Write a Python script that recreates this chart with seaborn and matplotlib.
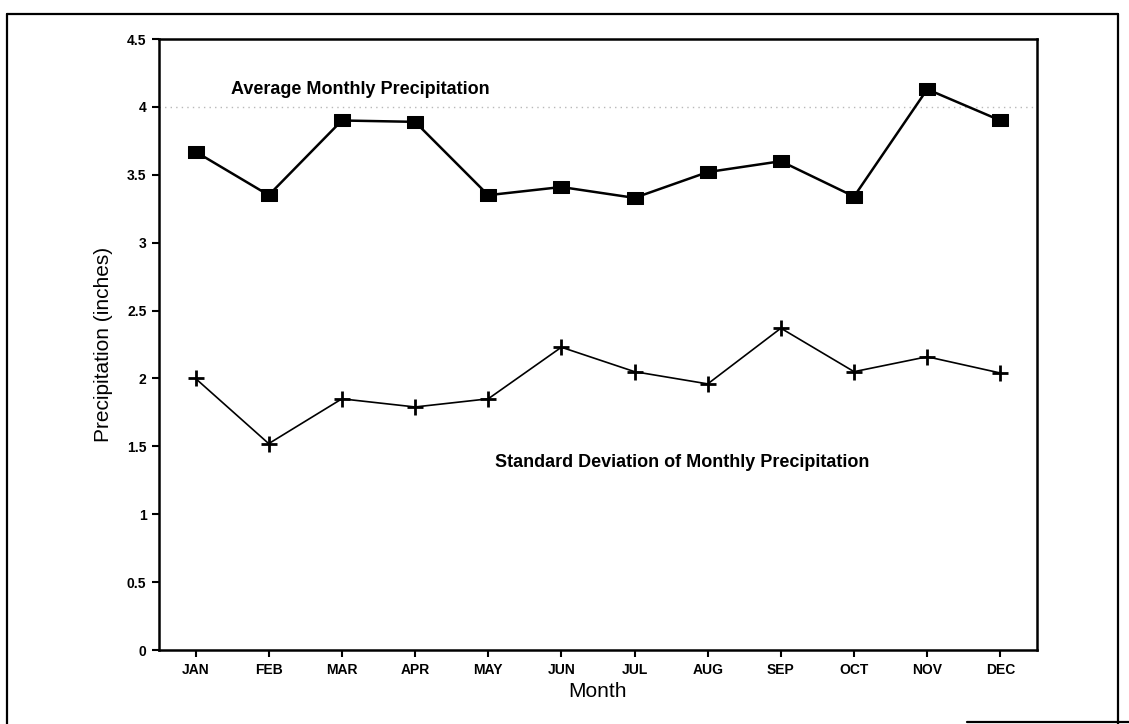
import numpy as np
import pandas as pd
import matplotlib
matplotlib.use("Agg")
import matplotlib.pyplot as plt
from matplotlib.lines import Line2D
import seaborn as sns

# Monthly precipitation statistics (inches)
months = ["JAN", "FEB", "MAR", "APR", "MAY", "JUN",
          "JUL", "AUG", "SEP", "OCT", "NOV", "DEC"]
avg_precip = [3.67, 3.35, 3.90, 3.89, 3.35, 3.41,
              3.33, 3.52, 3.60, 3.34, 4.13, 3.90]
std_precip = [2.00, 1.52, 1.85, 1.79, 1.85, 2.23,
              2.05, 1.96, 2.37, 2.05, 2.16, 2.04]
y_ticks = [0, 0.5, 1, 1.5, 2, 2.5, 3, 3.5, 4, 4.5]
y_tick_labels = ["0", "0.5", "1", "1.5", "2", "2.5", "3", "3.5", "4", "4.5"]

sns.set_style("ticks")
plt.rcParams["font.family"] = ["Liberation Sans", "DejaVu Sans"]
plt.rcParams.update({
    "text.color": "black",
    "axes.labelcolor": "black",
    "xtick.color": "black",
    "ytick.color": "black",
})

df = pd.DataFrame({
    "pos": np.arange(len(months)),
    "month": months,
    "avg": avg_precip,
    "std": std_precip,
})

# slightly wide filled rectangle marker
rect_marker = [(-1, -0.72), (1, -0.72), (1, 0.72), (-1, 0.72), (-1, -0.72)]

fig = plt.figure(figsize=(11.29, 7.24), dpi=100)
ax = fig.add_axes([0.1408, 0.1022, 0.7777, 0.8439])

# faint dotted reference line at 4 inches
ax.axhline(4.0, color="#b8b8b8", lw=1.0, ls=(0, (1, 3)), zorder=1)

sns.lineplot(data=df, x="pos", y="avg", ax=ax, color="black", lw=1.8,
             marker=rect_marker, markersize=12, markeredgecolor="black",
             markerfacecolor="black", zorder=3)
sns.lineplot(data=df, x="pos", y="std", ax=ax, color="black", lw=1.2,
             marker="+", markersize=12, markeredgewidth=2.0,
             markeredgecolor="black", zorder=3)

ax.set_xlim(-0.5, 11.5)
ax.set_ylim(0, 4.5)
ax.set_xticks(df["pos"])
ax.set_xticklabels(months, fontsize=10, fontweight="bold")
ax.set_yticks(y_ticks)
ax.set_yticklabels(y_tick_labels, fontsize=10, fontweight="bold")
ax.tick_params(axis="both", direction="out", length=5, width=1.5,
               color="black", pad=4)

for side in ["left", "right", "top", "bottom"]:
    ax.spines[side].set_visible(True)
    ax.spines[side].set_linewidth(1.8)
    ax.spines[side].set_color("black")

ax.set_xlabel("Month", fontsize=15, labelpad=4)
ax.set_ylabel("Precipitation (inches)", fontsize=15, labelpad=10)

ax.text(0.48, 4.13, "Average Monthly Precipitation", fontsize=13,
        fontweight="bold", ha="left", va="center")
ax.text(4.09, 1.38, "Standard Deviation of Monthly Precipitation",
        fontsize=13, fontweight="bold", ha="left", va="center")

# outer frame around the figure
W, H = 1129, 724
def fx(px):
    return px / W
def fy(py):
    return 1 - py / H
frame_kw = dict(color="black", lw=1.6, transform=fig.transFigure)
fig.add_artist(Line2D([fx(7), fx(1118)], [fy(14), fy(14)], **frame_kw))
fig.add_artist(Line2D([fx(7), fx(7)], [fy(14), fy(724)], **frame_kw))
fig.add_artist(Line2D([fx(1118), fx(1118)], [fy(14), fy(724)], **frame_kw))
fig.add_artist(Line2D([fx(967), fx(1129)], [fy(722), fy(722)], **frame_kw))

fig.savefig("out.png", dpi=100)
